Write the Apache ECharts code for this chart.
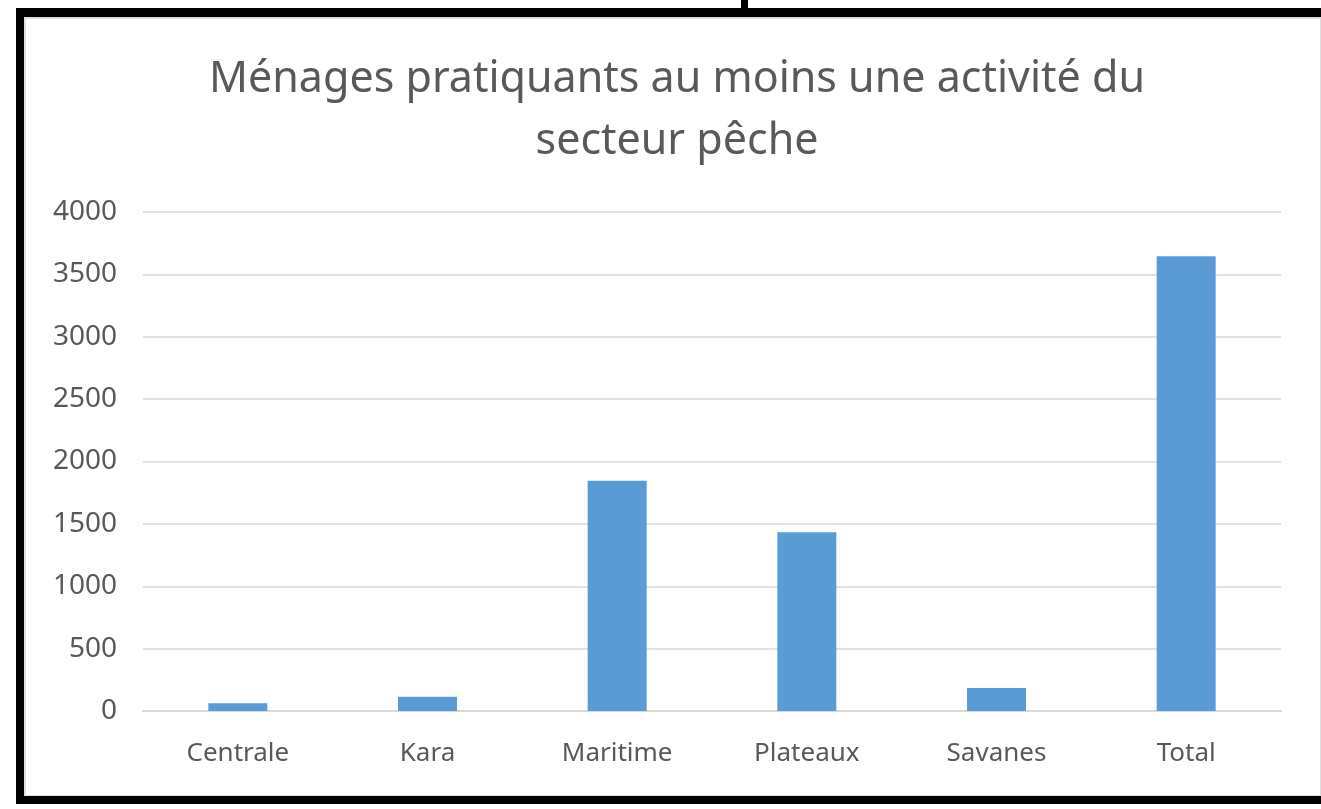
<!DOCTYPE html>
<html>
<head>
<meta charset="utf-8">
<script src="https://cdn.jsdelivr.net/npm/echarts@6/dist/echarts.min.js"></script>
<style>
  html, body { margin: 0; padding: 0; background: #fff; }
  #main { position: absolute; left: 0; top: 0; width: 1321px; height: 809px; }
  #frame {
    position: absolute; left: 16px; top: 8px; width: 1305px; height: 779px;
    border-left: 8px solid #000; border-top: 9px solid #000; border-bottom: 8px solid #000;
    box-sizing: content-box; pointer-events: none;
  }
  #inner {
    position: absolute; left: 24px; top: 17px; width: 1294px; height: 776px;
    border: 2px solid #dedede; border-right-width: 3px; pointer-events: none;
  }
  #tab { position: absolute; left: 741px; top: 0; width: 7px; height: 9px; background: #000; }
</style>
</head>
<body>
<div id="main"></div>
<div id="inner"></div>
<div id="frame"></div>
<div id="tab"></div>
<script>
  // Ménages pratiquants au moins une activité du secteur pêche
  const regions = ['Centrale', 'Kara', 'Maritime', 'Plateaux', 'Savanes', 'Total'];
  const menages = [62, 115, 1845, 1432, 184, 3645];
  const yTicks = [0, 500, 1000, 1500, 2000, 2500, 3000, 3500, 4000];

  const chart = echarts.init(document.getElementById('main'));

  const option = {
    animation: false,
    textStyle: { fontFamily: 'Noto Sans' },
    title: {
      text: 'Ménages pratiquants au moins une activité du\nsecteur pêche',
      left: 672,
      textAlign: 'center',
      top: 44,
      textStyle: {
        color: '#595959',
        fontSize: 43,
        fontWeight: 'normal',
        lineHeight: 62,
        fontFamily: 'Noto Sans'
      }
    },
    grid: { left: 143, right: 40, top: 212, bottom: 98 },
    xAxis: {
      type: 'category',
      data: regions,
      axisLine: { lineStyle: { color: '#d9d9d9', width: 2 } },
      axisTick: { show: false },
      axisLabel: { color: '#595959', fontSize: 26, margin: 30 }
    },
    yAxis: {
      type: 'value',
      min: yTicks[0],
      max: yTicks[yTicks.length - 1],
      interval: 500,
      axisLine: { show: false },
      axisTick: { show: false },
      splitLine: { lineStyle: { color: '#d9d9d9', width: 1.5 } },
      axisLabel: {
        color: '#595959',
        fontSize: 28,
        margin: 26,
        formatter: function (v) { return String(v); }
      }
    },
    series: [
      {
        type: 'bar',
        data: menages,
        barWidth: 59,
        itemStyle: { color: '#5b9bd5' }
      }
    ]
  };

  chart.setOption(option);
</script>
</body>
</html>
